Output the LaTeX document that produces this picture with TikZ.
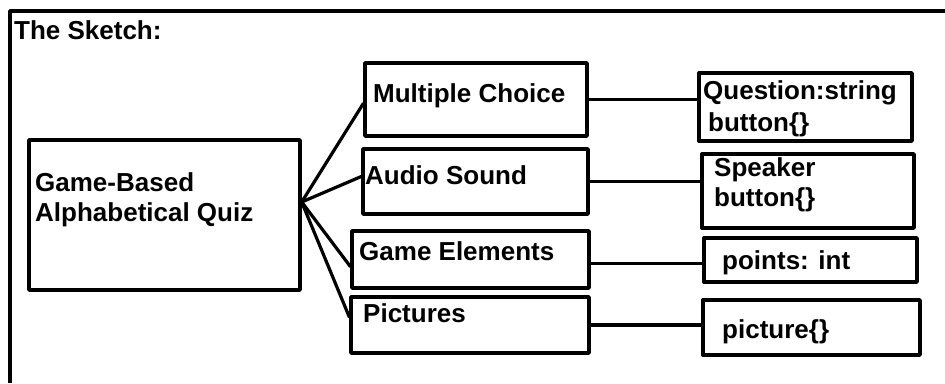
\documentclass[tikz,border=0pt]{standalone}
\usepackage{fontspec}
\setmainfont{Liberation Sans}
\usepackage{tikz}
\usetikzlibrary{calc}

\begin{document}
\begin{tikzpicture}[line cap=round,line join=round,x=1pt,y=-1pt,
	box/.style={draw=black,line width=3.4pt,rectangle,inner sep=0pt},
	txt/.style={anchor=west,inner sep=0pt,align=left,font=\fontsize{26}{30}\selectfont\bfseries},
	link/.style={line width=3.2pt,color=black}]
	\useasboundingbox (0,0) rectangle (945,383);
	\draw[line width=3.4pt,line cap=butt] (945,11) -- (10,11) -- (10,383);
	\node[txt] (title) at (14,30) {The Sketch:};
	\node[box,minimum width=271pt,minimum height=150pt] (quiz) at (164.5,215) {};
	\node[txt] (quiztxt) at (35,200) {Game-Based\\Alphabetical Quiz};
	\node[box,minimum width=222pt,minimum height=73pt] (mc) at (476,99.5) {};
	\node[txt] (mctxt) at (373,96) {Multiple Choice};
	\node[box,minimum width=225pt,minimum height=65pt] (audio) at (475.5,181.5) {};
	\node[txt] (audiotxt) at (365,175) {Audio Sound};
	\node[box,minimum width=237pt,minimum height=57pt] (elem) at (470.5,259.5) {};
	\node[txt] (elemtxt) at (359,251) {Game Elements};
	\node[box,minimum width=238pt,minimum height=56pt] (pics) at (470,325) {};
	\node[txt] (picstxt) at (363,313) {Pictures};
	\node[box,minimum width=213pt,minimum height=68pt] (quest) at (805.5,107) {};
	\node[txt] (questtxt) at (703,109) {Question:string\\[2pt]\hspace*{5pt}button\{\}};
	\node[box,minimum width=212pt,minimum height=74pt] (speak) at (808,191) {};
	\node[txt] (speaktxt) at (714,185) {Speaker\\button\{\}};
	\node[box,minimum width=213pt,minimum height=44pt] (points) at (810.5,260) {};
	\node[txt] (pointstxt) at (722,263) {points: int};
	\node[box,minimum width=217pt,minimum height=55pt] (pict) at (811.5,327.5) {};
	\node[txt] (picttxt) at (722,332) {picture\{\}};
	\coordinate (hub) at ($(quiz.east)+(0,-13)$);
	\draw[link] (hub) -- ($(mc.west)+(0,4)$);
	\draw[link] (hub) -- ($(audio.west)+(0,-5)$);
	\draw[link] (hub) -- ($(elem.west)+(0,7)$);
	\draw[link] (hub) -- ($(pics.west)+(0,-8)$);
	\draw[link] (mc.east) -- (mc.east -| quest.west);
	\draw[link] (audio.east) -- (audio.east -| speak.west);
	\draw[link] ($(elem.east)+(0,4)$) -- ($(elem.east -| points.west)+(0,4)$);
	\draw[link] (pics.east) -- (pics.east -| pict.west);
\end{tikzpicture}
\end{document}
